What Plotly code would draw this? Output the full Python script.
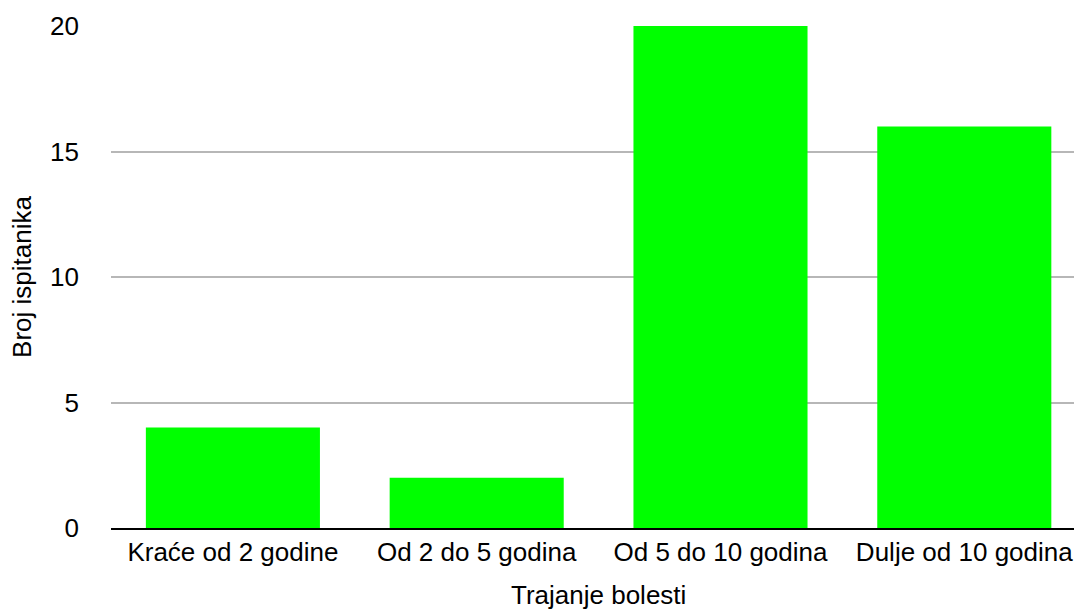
import plotly.graph_objects as go

categories = ["Kraće od 2 godine", "Od 2 do 5 godina", "Od 5 do 10 godina", "Dulje od 10 godina"]
values = [4, 2, 20, 16]
y_ticks = [0, 5, 10, 15, 20]

font = "Liberation Sans, Arial, sans-serif"
W, H = 1074, 609
L, R, T, B = 111, 0, 26, 81

fig = go.Figure(go.Bar(x=categories, y=values, marker=dict(color="#00ff00", line=dict(width=0))))
fig.update_layout(
    width=W, height=H,
    margin=dict(l=L, r=R, t=T, b=B, autoexpand=False),
    plot_bgcolor="white", paper_bgcolor="white",
    bargap=0.286,
    showlegend=False,
    font=dict(family=font, size=26, color="#000000"),
)
fig.update_xaxes(
    range=[-0.5, 3.45], automargin=False,
    showline=True, linecolor="#000000", linewidth=2,
    ticks="", tickfont=dict(size=26), showgrid=False,
)
fig.update_yaxes(
    title=dict(text="Broj ispitanika", font=dict(size=26), standoff=10),
    automargin=False,
    range=[0, 20], tickvals=y_ticks, showgrid=True, gridcolor="#b7b7b7", gridwidth=2,
    zeroline=False, showline=False, ticks="", tickfont=dict(size=26),
    ticklabelstandoff=31,
)
fig.add_annotation(
    text="Trajanje bolesti", xref="x", yref="paper", x=1.5,
    y=-(595 - (H - B)) / (H - T - B),
    yanchor="middle", xanchor="center", showarrow=False, font=dict(size=26, family=font),
)
fig.write_html(
    "out.html",
    config={"displayModeBar": False},
    post_script="document.body.style.margin='0';document.documentElement.style.overflow='hidden';document.body.style.overflow='hidden';",
)
